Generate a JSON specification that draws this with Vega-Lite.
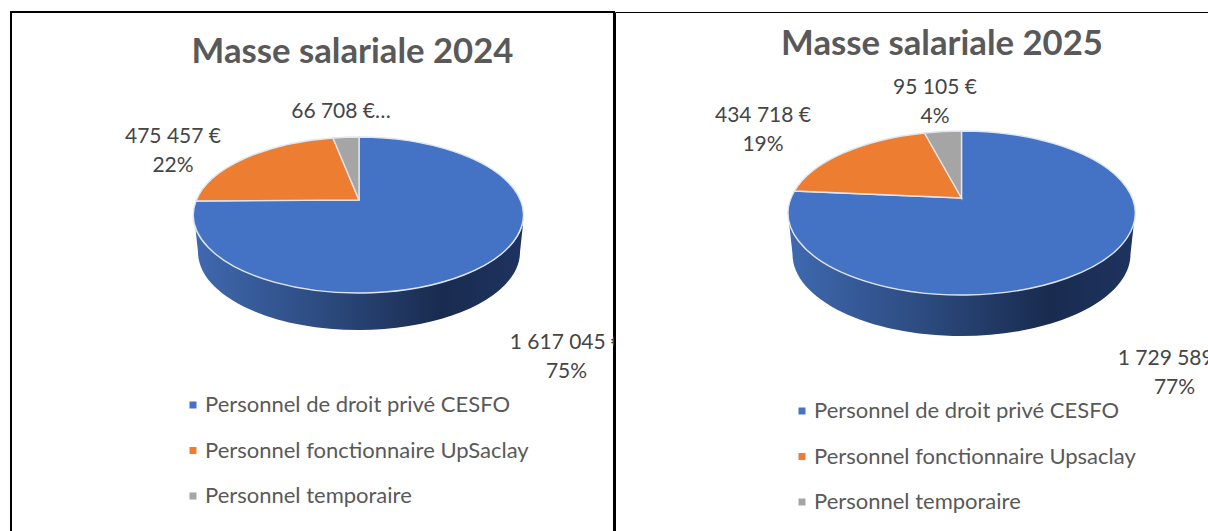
{"$schema":"https://vega.github.io/schema/vega-lite/v6.json","background":"white","padding":{"left":10,"top":11,"right":0,"bottom":0},"autosize":{"type":"pad"},"spacing":-2,"resolve":{"scale":{"color":"independent","shape":"independent"},"legend":{"color":"independent"}},"config":{"font":"Lato"},"datasets":{"y2024":[{"category":"Personnel de droit privé CESFO","slice":"prive","value":1617045,"share":0.75,"label":"1 617 045 €\n75%"},{"category":"Personnel fonctionnaire UpSaclay","slice":"fonctionnaire","value":475457,"share":0.22,"label":"475 457 €\n22%"},{"category":"Personnel temporaire","slice":"temporaire","value":66708,"share":0.03,"label":"66 708 €…"}],"y2025":[{"category":"Personnel de droit privé CESFO","slice":"prive","value":1729589,"share":0.77,"label":"1 729 589 €\n77%"},{"category":"Personnel fonctionnaire Upsaclay","slice":"fonctionnaire","value":434718,"share":0.19,"label":"434 718 €\n19%"},{"category":"Personnel temporaire","slice":"temporaire","value":95105,"share":0.04,"label":"95 105 €\n4%"}]},"hconcat":[{"width":603,"height":521,"view":{"stroke":"black","strokeWidth":2},"data":{"name":"y2024"},"layer":[{"transform":[{"filter":"datum.slice === 'prive'"}],"mark":{"type":"point","filled":true,"opacity":1,"size":4,"xOffset":46.5,"yOffset":-72.5,"strokeWidth":0,"shape":"M-165,15 A165,78 0 0 0 165,15 L161,52 A161,78 0 0 1 -161,52 Z","fill":{"gradient":"linear","x1":0,"y1":0,"x2":1,"y2":0,"stops":[{"offset":0,"color":"#3f69b0"},{"offset":0.4,"color":"#2c4a7e"},{"offset":0.75,"color":"#192b4f"},{"offset":1,"color":"#1e3360"}]}}},{"mark":{"type":"point","filled":true,"opacity":1,"size":4,"xOffset":46.5,"yOffset":-72.5,"stroke":"#dfe5f1","strokeWidth":1.4},"encoding":{"color":{"field":"category","type":"nominal","scale":{"domain":["Personnel de droit privé CESFO","Personnel fonctionnaire UpSaclay","Personnel temporaire"],"range":["#4472c4","#ed7d31","#a5a5a5"]},"legend":{"orient":"none","legendX":171,"legendY":382,"title":null,"symbolType":"square","symbolSize":49,"symbolOpacity":1,"symbolStrokeWidth":0,"labelFont":"Lato","labelFontSize":22,"labelColor":"#595959","rowPadding":23.5,"labelLimit":400,"labelOffset":1}},"shape":{"field":"slice","type":"nominal","legend":null,"scale":{"domain":["prive","fonctionnaire","temporaire"],"range":["M0,0 L0,-63 A165,78 0 1 1 -163,1 Z","M0,0 L-163,1 A165,78 0 0 1 -26,-62 Z","M0,0 L-26,-62 A165,78 0 0 1 0,-63 Z"]}}}},{"transform":[{"filter":"datum.slice === 'fonctionnaire'"}],"mark":{"type":"text","font":"Lato","fontSize":21,"color":"#454545","lineBreak":"\n","lineHeight":29,"align":"center","baseline":"alphabetic","clip":true,"xOffset":-139.5,"yOffset":-129.5},"encoding":{"text":{"field":"label","type":"nominal"}}},{"transform":[{"filter":"datum.slice === 'temporaire'"}],"mark":{"type":"text","font":"Lato","fontSize":21,"color":"#454545","lineBreak":"\n","lineHeight":29,"align":"center","baseline":"alphabetic","clip":true,"xOffset":28.5,"yOffset":-154.5},"encoding":{"text":{"field":"label","type":"nominal"}}},{"transform":[{"filter":"datum.slice === 'prive'"}],"mark":{"type":"text","font":"Lato","fontSize":21,"color":"#454545","lineBreak":"\n","lineHeight":29,"align":"center","baseline":"alphabetic","clip":true,"xOffset":254,"yOffset":76.5},"encoding":{"text":{"field":"label","type":"nominal"}}},{"data":{"values":[{"title":"Masse salariale 2024"}]},"mark":{"type":"text","font":"Lato","fontSize":34.7,"fontWeight":"bold","color":"#595959","align":"center","baseline":"alphabetic","xOffset":40,"yOffset":-209.5},"encoding":{"text":{"field":"title","type":"nominal"}}}]},{"width":595,"height":521,"view":{"stroke":"black","strokeWidth":1},"data":{"name":"y2025"},"layer":[{"transform":[{"filter":"datum.slice === 'prive'"}],"mark":{"type":"point","filled":true,"opacity":1,"size":4,"xOffset":49,"yOffset":-74.5,"strokeWidth":0,"shape":"M-173.5,15 A173.5,82 0 0 0 173.5,15 L169,56 A169,82 0 0 1 -169,56 Z","fill":{"gradient":"linear","x1":0,"y1":0,"x2":1,"y2":0,"stops":[{"offset":0,"color":"#3f69b0"},{"offset":0.4,"color":"#2c4a7e"},{"offset":0.75,"color":"#192b4f"},{"offset":1,"color":"#1e3360"}]}}},{"mark":{"type":"point","filled":true,"opacity":1,"size":4,"xOffset":49,"yOffset":-74.5,"stroke":"#dfe5f1","strokeWidth":1.4},"encoding":{"color":{"field":"category","type":"nominal","scale":{"domain":["Personnel de droit privé CESFO","Personnel fonctionnaire Upsaclay","Personnel temporaire"],"range":["#4472c4","#ed7d31","#a5a5a5"]},"legend":{"orient":"none","legendX":176,"legendY":388,"title":null,"symbolType":"square","symbolSize":49,"symbolOpacity":1,"symbolStrokeWidth":0,"labelFont":"Lato","labelFontSize":22,"labelColor":"#595959","rowPadding":23.5,"labelLimit":400,"labelOffset":1}},"shape":{"field":"slice","type":"nominal","legend":null,"scale":{"domain":["prive","fonctionnaire","temporaire"],"range":["M0,0 L0,-67 A173.5,82 0 1 1 -167,-7 Z","M0,0 L-167,-7 A173.5,82 0 0 1 -37,-65 Z","M0,0 L-37,-65 A173.5,82 0 0 1 0,-67 Z"]}}}},{"transform":[{"filter":"datum.slice === 'fonctionnaire'"}],"mark":{"type":"text","font":"Lato","fontSize":21,"color":"#454545","lineBreak":"\n","lineHeight":29,"align":"center","baseline":"alphabetic","clip":true,"xOffset":-149.5,"yOffset":-150.5},"encoding":{"text":{"field":"label","type":"nominal"}}},{"transform":[{"filter":"datum.slice === 'temporaire'"}],"mark":{"type":"text","font":"Lato","fontSize":21,"color":"#454545","lineBreak":"\n","lineHeight":29,"align":"center","baseline":"alphabetic","clip":true,"xOffset":22.5,"yOffset":-178.5},"encoding":{"text":{"field":"label","type":"nominal"}}},{"transform":[{"filter":"datum.slice === 'prive'"}],"mark":{"type":"text","font":"Lato","fontSize":21,"color":"#454545","lineBreak":"\n","lineHeight":29,"align":"center","baseline":"alphabetic","clip":true,"xOffset":262,"yOffset":92.5},"encoding":{"text":{"field":"label","type":"nominal"}}},{"data":{"values":[{"title":"Masse salariale 2025"}]},"mark":{"type":"text","font":"Lato","fontSize":34.7,"fontWeight":"bold","color":"#595959","align":"center","baseline":"alphabetic","xOffset":29.5,"yOffset":-217.5},"encoding":{"text":{"field":"title","type":"nominal"}}}]}]}
